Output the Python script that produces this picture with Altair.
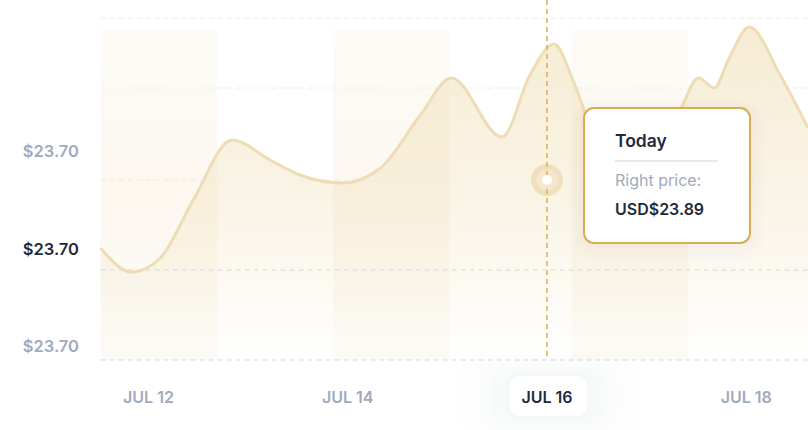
import altair as alt
import pandas as pd

# ---------------- data ----------------
days = [11.52, 11.83, 12.12, 12.45, 12.84, 13.22, 13.52, 13.95, 14.33, 14.73,
        15.04, 15.55, 15.83, 16.07, 16.28, 16.53, 16.89, 17.19, 17.36,
        17.52, 17.68, 17.82, 18.03, 18.34, 18.62]
prices = [23.712, 23.688, 23.702, 23.760, 23.820, 23.800, 23.785, 23.777, 23.792, 23.845,
          23.882, 23.823, 23.885, 23.916, 23.875, 23.810, 23.785, 23.820, 23.855,
          23.882, 23.872, 23.900, 23.933, 23.885, 23.832]

band_start = [11.52, 13.85, 16.25]
band_end = [12.69, 15.02, 17.42]
band_top = 23.93
base_price = 23.60

grid_levels = [23.942, 23.872, 23.780, 23.690, 23.600]
grid_kind = ["light", "light", "light", "strong", "strong"]

y_label_text = ["$23.70", "$23.70", "$23.70"]
y_label_pos = [23.808, 23.710, 23.613]
y_label_kind = ["muted", "active", "muted"]

x_label_days = [12, 14, 16, 18]
x_label_text = ["JUL 12", "JUL 14", "JUL 16", "JUL 18"]
x_label_kind = ["muted", "muted", "active", "muted"]

today_day = 16.0
today_price = 23.780
tooltip_title = "Today"
tooltip_label = "Right price:"
tooltip_value = "USD$23.89"

# ---------------- styling ----------------
FONT = "Inter"
GOLD_LINE = "#EEDDB4"
GOLD_RULE = "#DCB35B"
GOLD_BORDER = "#D9AD52"
DARK = "#1F2A3C"
MUTED = "#A0AABD"

X_DOMAIN = [10.51, 18.62]
Y_DOMAIN = [23.53, 23.96]
xs = alt.Scale(domain=X_DOMAIN, nice=False, zero=False)
ys = alt.Scale(domain=Y_DOMAIN, nice=False, zero=False)

line_df = pd.DataFrame({"day": days, "price": prices})
band_df = pd.DataFrame({"start": band_start, "end": band_end,
                        "top": [band_top] * 3, "bottom": [base_price] * 3})
grid_df = pd.DataFrame({"level": grid_levels, "kind": grid_kind,
                        "x0": [days[0]] * 5, "x1": [days[-1]] * 5})
ylab_df = pd.DataFrame({"text": y_label_text, "pos": y_label_pos, "kind": y_label_kind,
                        "x": [11.303] * 3})
xlab_df = pd.DataFrame({"text": x_label_text, "day": x_label_days, "kind": x_label_kind,
                        "y": [23.562] * 4})
today_df = pd.DataFrame({"day": [today_day], "price": [today_price],
                         "top": [Y_DOMAIN[1]], "bottom": [base_price]})

kind_color = alt.Color("kind:N", scale=alt.Scale(domain=["muted", "active"], range=[MUTED, DARK]),
                       legend=None)

X = lambda f: alt.X(f, scale=xs, axis=None)
Y = lambda f: alt.Y(f, scale=ys, axis=None)

bands = alt.Chart(band_df).mark_rect(
    color=alt.Gradient(gradient="linear",
                       stops=[alt.GradientStop(color="#FDFBF6", offset=0),
                              alt.GradientStop(color="#FCF8F0", offset=0.5),
                              alt.GradientStop(color="#FDFBF7", offset=1)],
                       x1=1, x2=1, y1=0, y2=1)
).encode(x=X("start:Q"), x2="end:Q", y=Y("top:Q"), y2="bottom:Q")

area = alt.Chart(line_df).mark_area(
    interpolate="monotone",
    color=alt.Gradient(gradient="linear",
                       stops=[alt.GradientStop(color="rgba(238,218,170,0.50)", offset=0),
                              alt.GradientStop(color="rgba(238,218,170,0.28)", offset=0.55),
                              alt.GradientStop(color="rgba(238,218,170,0.0)", offset=1)],
                       x1=1, x2=1, y1=0, y2=1)
).encode(x=X("day:Q"), y=Y("price:Q"), y2=alt.datum(base_price))

grid = alt.Chart(grid_df).mark_rule(strokeDash=[5, 4], strokeWidth=1).encode(
    x=X("x0:Q"), x2="x1:Q", y=Y("level:Q"),
    color=alt.Color("kind:N", scale=alt.Scale(domain=["light", "strong"],
                                              range=["#ECECEC", "#CFD5E0"]), legend=None)
)

line = alt.Chart(line_df).mark_line(interpolate="monotone", color=GOLD_LINE,
                                    strokeWidth=3).encode(x=X("day:Q"), y=Y("price:Q"))

halo = alt.Chart(today_df).mark_circle(color="#EFDFBC", opacity=1, size=1020).encode(
    x=X("day:Q"), y=Y("price:Q"))
halo_in = alt.Chart(today_df).mark_circle(color="#F3E7CD", opacity=1, size=460).encode(
    x=X("day:Q"), y=Y("price:Q"))
vrule = alt.Chart(today_df).mark_rule(color=GOLD_RULE, strokeDash=[5, 4],
                                      strokeWidth=1.6).encode(
    x=X("day:Q"), y=Y("top:Q"), y2="bottom:Q")
dot = alt.Chart(today_df).mark_circle(color="white", opacity=1, size=100).encode(
    x=X("day:Q"), y=Y("price:Q"))

# soft glow behind the highlighted date label
glows = []
for pad, op in [(55, 0.008), (42, 0.009), (30, 0.010), (20, 0.011), (11, 0.012), (4, 0.014)]:
    glows.append(alt.Chart(today_df).mark_rect(
        color="#7887A8", opacity=op, cornerRadius=10 + pad // 2).encode(
        x=alt.value(510 - pad), x2=alt.value(587 + pad),
        y=alt.value(376 - pad * 0.5), y2=alt.value(416 + pad * 0.5)))
date_box = alt.Chart(today_df).mark_rect(color="white", cornerRadius=10).encode(
    x=alt.value(510), x2=alt.value(587), y=alt.value(376), y2=alt.value(416))

# tooltip
tip_shadow = []
for pad, op in [(14, 0.010), (9, 0.014), (4, 0.018)]:
    tip_shadow.append(alt.Chart(today_df).mark_rect(
        color="#6A7BA0", opacity=op, cornerRadius=10 + pad).encode(
        x=alt.value(584 - pad), x2=alt.value(750 + pad),
        y=alt.value(108 - pad * 0.5), y2=alt.value(243 + pad * 1.3)))
tip_box = alt.Chart(today_df).mark_rect(fill="white", stroke=GOLD_BORDER, strokeWidth=2,
                                        cornerRadius=10).encode(
    x=alt.value(584), x2=alt.value(750), y=alt.value(108), y2=alt.value(243))
tip_sep = alt.Chart(today_df).mark_rule(color="#CDD1D9", strokeWidth=1).encode(
    x=alt.value(615), x2=alt.value(718), y=alt.value(161))
tip_df = pd.DataFrame({"text": [tooltip_title, tooltip_label, tooltip_value]})
tip_title = alt.Chart(tip_df.iloc[[0]]).mark_text(
    font=FONT, fontSize=17.5, fontWeight=600, align="left", baseline="middle", color=DARK
).encode(x=alt.value(615), y=alt.value(142), text="text:N")
tip_lab = alt.Chart(tip_df.iloc[[1]]).mark_text(
    font=FONT, fontSize=16, fontWeight=400, align="left", baseline="middle", color=MUTED
).encode(x=alt.value(615), y=alt.value(181), text="text:N")
tip_val = alt.Chart(tip_df.iloc[[2]]).mark_text(
    font=FONT, fontSize=16, fontWeight=600, align="left", baseline="middle", color=DARK
).encode(x=alt.value(615), y=alt.value(210), text="text:N")

ylabels = alt.Chart(ylab_df).mark_text(font=FONT, fontSize=16.5, fontWeight=600,
                                       align="right", baseline="middle").encode(
    x=X("x:Q"), y=Y("pos:Q"), text="text:N", color=kind_color)
xlabels = alt.Chart(xlab_df).mark_text(font=FONT, fontSize=16, fontWeight=600,
                                       align="center", baseline="middle").encode(
    x=X("day:Q"), y=Y("y:Q"), text="text:N", color=kind_color)

chart = alt.layer(
    bands, area, grid, line, halo, halo_in, vrule, dot,
    *glows, date_box, *tip_shadow, tip_box, tip_sep, tip_title, tip_lab, tip_val,
    ylabels, xlabels
).resolve_scale(color="independent").properties(
    width=808, height=430, padding=0, autosize=alt.AutoSizeParams(type="none"),
    background="white"
).configure_view(stroke=None)

chart.save("out.html", embed_options={"renderer": "svg", "actions": False})
